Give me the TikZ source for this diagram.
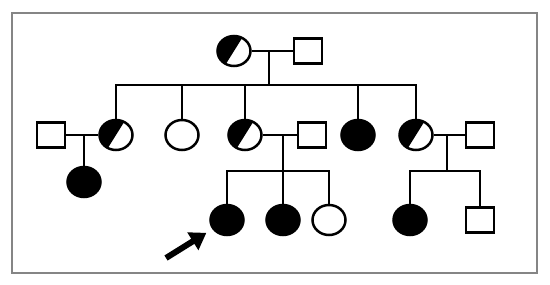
\documentclass[tikz,border=0pt]{standalone}
\usetikzlibrary{shapes.geometric,arrows.meta,calc}
\begin{document}
\begin{tikzpicture}[x=1bp,y=-1bp,
  lw/.style={line width=2.5bp},
  person/.style={lw,draw=black,inner sep=0pt},
  female/.style={person,ellipse,minimum width=33bp,minimum height=30bp,fill=white},
  affected/.style={female,fill=black},
  carrier/.style={female,path picture={\fill[black] (path picture bounding box.center) ++(58:30bp) -- ++(148:30bp) -- ++(238:60bp) -- ++(328:30bp) -- cycle;}},
  male/.style={person,rectangle,minimum width=28bp,minimum height=25bp,fill=white},
  link/.style={lw,draw=black},
  frame/.style={draw=black!48,line width=1.6bp}
]
\useasboundingbox (0,0) rectangle (550,284);
\draw[frame] (12,13) rectangle (537,273);

% Generation I
\node[carrier] (g1f) at (234,51) {};
\node[male] (g1m) at (308,51) {};
\coordinate (m1) at (269,51);
\coordinate (s1) at (269,85);

% Generation II
\node[male] (am) at (51,135) {};
\node[carrier] (a) at (116,135) {};
\node[female] (b) at (182,135) {};
\node[carrier] (c) at (245,135) {};
\node[male] (cm) at (312,135) {};
\node[affected] (d) at (358,135) {};
\node[carrier] (e) at (416,135) {};
\node[male] (em) at (480,135) {};

\coordinate (ma) at (84,135);
\coordinate (mc) at (283,135);
\coordinate (sc) at (283,171);
\coordinate (me) at (447,135);
\coordinate (se) at (447,171);

% Generation III
\node[affected] (a1) at (84,182) {};
\node[affected] (c1) at (227,220) {};
\node[affected] (c2) at (283,220) {};
\node[female] (c3) at (329,220) {};
\node[affected] (e1) at (410,220) {};
\node[male] (e2) at (480,220) {};

% connectors generation I
\draw[link] (g1f) -- (g1m);
\draw[link] (m1) -- (s1);
\draw[link] (a.north) |- (s1) -| (e.north);
\draw[link] (b.north) -- (b.north |- s1);
\draw[link] (c.north) -- (c.north |- s1);
\draw[link] (d.north) -- (d.north |- s1);

% couples generation II
\draw[link] (am) -- (a);
\draw[link] (ma) -- (a1);
\draw[link] (c) -- (cm);
\draw[link] (mc) -- (sc);
\draw[link] (c1.north) |- (sc) -| (c3.north);
\draw[link] (c2.north) -- (c2.north |- sc);
\draw[link] (e) -- (em);
\draw[link] (me) -- (se);
\draw[link] (e1.north) |- (se) -| (e2.north);

% proband arrow
\coordinate (tail) at (166,258);
\draw[line width=6bp,-{Triangle[length=16bp,width=20bp]},shorten >=7bp] (tail) -- (c1);
\end{tikzpicture}
\end{document}
